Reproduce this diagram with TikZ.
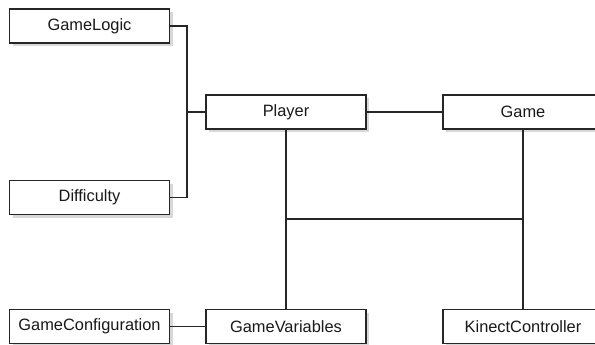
\documentclass[tikz,border=0pt]{standalone}
\usepackage{fontspec}
\setmainfont{Liberation Sans}
\usepackage{tikz}
\usetikzlibrary{positioning,shadows}
\usepackage{xcolor}

\begin{document}
\begin{tikzpicture}[x=0.75pt, y=-0.75pt, line width=0.8pt,
		every node/.style={font=\fontsize{12.3}{14}\selectfont, text=black!90},
		classbox/.style={rectangle, draw=black!85, fill=white, minimum width=120pt,
			minimum height=25.5pt, inner sep=0pt,
			drop shadow={opacity=0.3, shadow xshift=2.5pt, shadow yshift=-2.5pt}},
		link/.style={draw=black!85}]
		\clip (0,0) rectangle (595,344);
		\fill[white] (0,0) rectangle (595,344);
		\node[classbox](gamelogic) at (89.5,26) {GameLogic};
		\node[classbox](difficulty) at (89.5,197.5) {Difficulty};
		\node[classbox](player) at (286,112) {Player};
		\node[classbox](game) at (523,112) {Game};
		\node[classbox](gameconfig) at (89.5,326.5) {GameConfiguration};
		\node[classbox](gamevars) at (286,326.5) {GameVariables};
		\node[classbox](kinect) at (523,326.5) {KinectController};
		\coordinate (jleft) at (187,112);
		\coordinate (jmid) at (286,219);
		\coordinate (jright) at (523,219);
		\path[link] (gamelogic.east) -| (jleft) -- (player.west)
		(difficulty.east) -| (jleft)
		(player.east) -- (game.west)
		(player.south) -- (gamevars.north)
		(game.south) -- (kinect.north)
		(jmid) -- (jright)
		(gameconfig.east) -- (gamevars.west)
		;
	\end{tikzpicture}
\end{document}
